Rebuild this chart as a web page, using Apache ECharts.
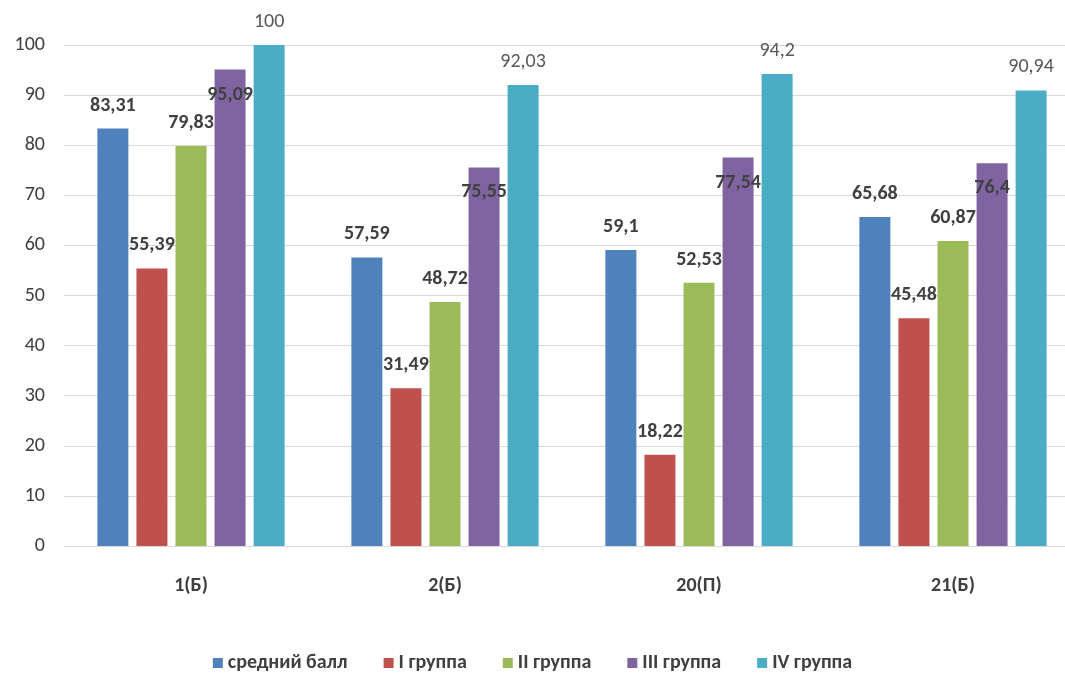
<!DOCTYPE html>
<html>
<head>
<meta charset="utf-8">
<script src="https://cdn.jsdelivr.net/npm/echarts@6/dist/echarts.min.js"></script>
<style>
    html, body { margin: 0; padding: 0; background: #fff; }
    #chart { width: 1065px; height: 681px; }
</style>
</head>
<body>
<div id="chart"></div>
<script>
var categories = ['1(Б)', '2(Б)', '20(П)', '21(Б)'];
var seriesNames = ['средний балл', 'I группа', 'II группа', 'III группа', 'IV группа'];
var avgScore = [83.31, 57.59, 59.1, 65.68];
var group1 = [55.39, 31.49, 18.22, 45.48];
var group2 = [79.83, 48.72, 52.53, 60.87];
var group3 = [95.09, 75.55, 77.54, 76.4];
var group4 = [100, 92.03, 94.2, 90.94];
var yTicks = [0, 10, 20, 30, 40, 50, 60, 70, 80, 90, 100];

var colors = ['#4f81bd', '#c0504d', '#9bbb59', '#8064a2', '#4bacc6'];
var font = 'Calibri, Carlito, "Liberation Sans", Arial, sans-serif';

function fmt(p) {
    return String(p.value).replace('.', ',');
}

function makeSeries(name, data, idx) {
    var label = {
        show: true,
        position: 'top',
        distance: 13,
        formatter: fmt,
        fontFamily: font,
        fontSize: 20,
        fontWeight: 'bold',
        color: '#404040'
    };
    if (idx === 3) {
        // подписи фиолетовых столбцов стоят внутри столбца
        label.offset = [0, 48];
    }
    if (idx === 4) {
        label.fontWeight = 'normal';
        label.color = '#595959';
    }
    return {
        name: name,
        type: 'bar',
        data: data,
        barWidth: 31,
        barGap: '26%',
        itemStyle: { color: colors[idx] },
        label: label
    };
}

var myChart = echarts.init(document.getElementById('chart'));

var option = {
    animation: false,
    grid: {
        left: 64,
        width: 1016,
        top: 45,
        bottom: 135,
        containLabel: false,
        outerBoundsMode: 'none'
    },
    legend: {
        bottom: 3,
        left: 'center',
        itemWidth: 10,
        itemHeight: 10,
        itemGap: 36,
        icon: 'rect',
        textStyle: {
            fontFamily: font,
            fontSize: 20,
            fontWeight: 'bold',
            color: '#404040'
        },
        data: seriesNames
    },
    xAxis: {
        type: 'category',
        data: categories,
        axisLine: { lineStyle: { color: '#d9d9d9', width: 1 } },
        axisTick: { show: false },
        axisLabel: {
            margin: 30,
            fontFamily: font,
            fontSize: 20,
            fontWeight: 'bold',
            color: '#404040'
        }
    },
    yAxis: {
        type: 'value',
        min: yTicks[0],
        max: yTicks[yTicks.length - 1],
        interval: 10,
        axisLine: { show: false },
        axisTick: { show: false },
        splitLine: { lineStyle: { color: '#d9d9d9', width: 1 } },
        axisLabel: {
            margin: 19,
            fontFamily: font,
            fontSize: 20,
            color: '#404040'
        }
    },
    series: [
        makeSeries(seriesNames[0], avgScore, 0),
        makeSeries(seriesNames[1], group1, 1),
        makeSeries(seriesNames[2], group2, 2),
        makeSeries(seriesNames[3], group3, 3),
        makeSeries(seriesNames[4], group4, 4)
    ]
};

myChart.setOption(option);
</script>
</body>
</html>
